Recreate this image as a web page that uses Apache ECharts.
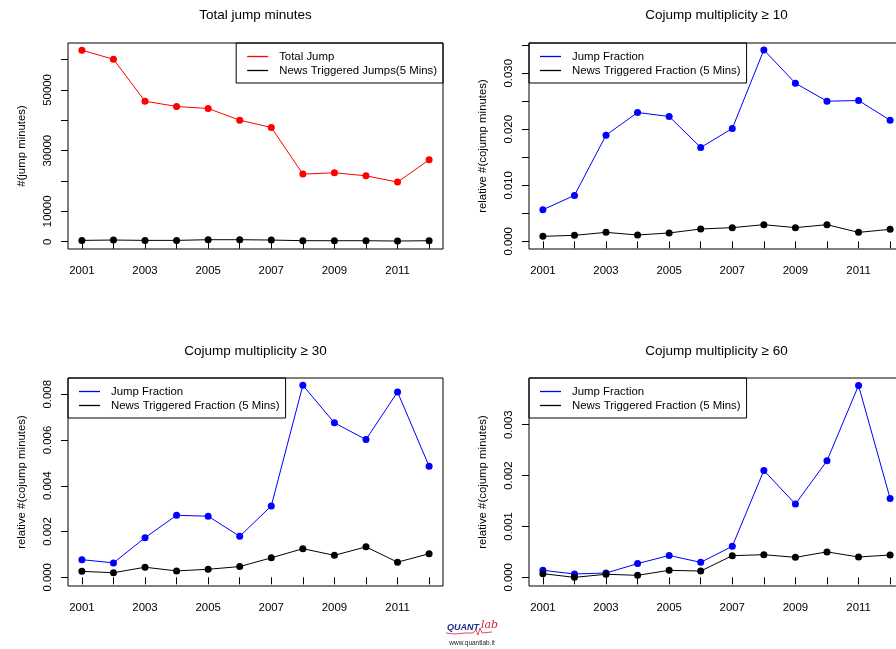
<!DOCTYPE html>
<html>
<head>
<meta charset="utf-8">
<title>Jump minutes</title>
<script src="https://cdn.jsdelivr.net/npm/echarts@6/dist/echarts.min.js"></script>
<style>
  html, body { margin: 0; padding: 0; overflow: hidden; background: #fff; }
  #chart { width: 922px; height: 649px; }
</style>
</head>
<body>
<div id="chart"></div>
<script>
// data
var years = [2001, 2002, 2003, 2004, 2005, 2006, 2007, 2008, 2009, 2010, 2011, 2012];
var yearLabels = [2001, 2003, 2005, 2007, 2009, 2011];

var totalJump = [63060, 60100, 46280, 44540, 43880, 40030, 37630, 22270, 22700, 21710, 19640, 26970];
var newsJumps = [440, 550, 440, 440, 660, 660, 550, 330, 330, 330, 220, 330];

var frac10 = [0.00564, 0.0082, 0.01895, 0.0230, 0.02228, 0.01675, 0.02014, 0.03416, 0.02822, 0.02501, 0.02513, 0.02162];
var news10 = [0.00089, 0.00107, 0.0016, 0.00113, 0.00149, 0.0022, 0.00244, 0.00297, 0.00244, 0.00297, 0.0016, 0.00214];

var frac30 = [0.00077, 0.00063, 0.00173, 0.00271, 0.00267, 0.00179, 0.00312, 0.00839, 0.00675, 0.00602, 0.0081, 0.00485];
var news30 = [0.00026, 0.0002, 0.00044, 0.00028, 0.00035, 0.00047, 0.00085, 0.00125, 0.00096, 0.00133, 0.00066, 0.00103];

var frac60 = [0.000138, 0.000066, 0.000085, 0.00027, 0.00043, 0.000295, 0.00061, 0.0021, 0.00144, 0.00229, 0.00377, 0.00155];
var news60 = [0.000072, 0.0, 0.00006, 0.00004, 0.000138, 0.000124, 0.000426, 0.000445, 0.000393, 0.0005, 0.0004, 0.000439];

// tick marks and the labels R kept
var ticksTotal = [0, 10000, 20000, 30000, 40000, 50000, 60000];
var labelsTotal = [0, 10000, 30000, 50000];
var ticks10 = [0, 0.005, 0.01, 0.015, 0.02, 0.025, 0.03, 0.035];
var labels10 = [0, 0.01, 0.02, 0.03];
var ticks30 = [0, 0.002, 0.004, 0.006, 0.008];
var ticks60 = [0, 0.001, 0.002, 0.003];

var FONT = 'Liberation Sans, Arial, Helvetica, sans-serif';
var FS = 11.4;

function pairs(ys) {
  return years.map(function (y, i) { return [y, ys[i]]; });
}

var panels = [
  {
    title: 'Total jump minutes', cx: 255.5, ty: 8,
    grid: {left: 68, top: 43, width: 375, height: 206},
    yName: '#(jump minutes)', yMin: -2400, yMax: 65450,
    ticks: ticksTotal, labels: labelsTotal, digits: 0,
    lines: [
      {name: 'Total Jump', data: totalJump, color: '#ff0000'},
      {name: 'News Triggered Jumps(5 Mins)', data: newsJumps, color: '#000000'}
    ],
    legend: {right: 922 - 443, top: 43}
  },
  {
    title: 'Cojump multiplicity \u2265 10', cx: 716.5, ty: 8,
    grid: {left: 529, top: 43, width: 375, height: 206},
    yName: 'relative #(cojump minutes)', yMin: -0.00137, yMax: 0.0354,
    ticks: ticks10, labels: labels10, digits: 3,
    lines: [
      {name: 'Jump Fraction', data: frac10, color: '#0000ff'},
      {name: 'News Triggered Fraction (5 Mins)', data: news10, color: '#000000'}
    ],
    legend: {left: 529, top: 43}
  },
  {
    title: 'Cojump multiplicity \u2265 30', cx: 255.5, ty: 344,
    grid: {left: 68, top: 378, width: 375, height: 208},
    yName: 'relative #(cojump minutes)', yMin: -0.00038, yMax: 0.00871,
    ticks: ticks30, labels: ticks30, digits: 3,
    lines: [
      {name: 'Jump Fraction', data: frac30, color: '#0000ff'},
      {name: 'News Triggered Fraction (5 Mins)', data: news30, color: '#000000'}
    ],
    legend: {left: 68, top: 378}
  },
  {
    title: 'Cojump multiplicity \u2265 60', cx: 716.5, ty: 344,
    grid: {left: 529, top: 378, width: 375, height: 208},
    yName: 'relative #(cojump minutes)', yMin: -0.00017, yMax: 0.003917,
    ticks: ticks60, labels: ticks60, digits: 3,
    lines: [
      {name: 'Jump Fraction', data: frac60, color: '#0000ff'},
      {name: 'News Triggered Fraction (5 Mins)', data: news60, color: '#000000'}
    ],
    legend: {left: 529, top: 378}
  }
];

var option = {
  animation: false,
  backgroundColor: '#ffffff',
  textStyle: {fontFamily: FONT, color: '#000'},
  title: [], grid: [], xAxis: [], yAxis: [], legend: [], series: []
};

panels.forEach(function (p, k) {
  option.title.push({
    text: p.title, left: p.cx, top: p.ty, textAlign: 'center', padding: 0,
    textStyle: {fontFamily: FONT, fontSize: 13.5, fontWeight: 'normal', color: '#000'}
  });
  option.grid.push(Object.assign({
    show: true, borderColor: '#000', borderWidth: 1, backgroundColor: 'transparent'
  }, p.grid));
  option.xAxis.push({
    type: 'value', gridIndex: k, min: 2000.56, max: 2012.44,
    axisLine: {show: false},
    splitLine: {show: false},
    axisTick: {show: true, length: 7, customValues: years, lineStyle: {color: '#000', width: 1}},
    axisLabel: {
      customValues: yearLabels, margin: 16, color: '#000',
      fontFamily: FONT, fontSize: FS,
      formatter: function (v) { return String(v); }
    }
  });
  option.yAxis.push({
    type: 'value', gridIndex: k, min: p.yMin, max: p.yMax,
    name: p.yName, nameLocation: 'middle', nameGap: 41,
    nameTextStyle: {fontFamily: FONT, fontSize: FS, color: '#000'},
    axisLine: {show: false},
    splitLine: {show: false},
    axisTick: {show: true, length: 7, customValues: p.ticks, lineStyle: {color: '#000', width: 1}},
    axisLabel: {
      customValues: p.labels, rotate: 90, margin: 15, color: '#000',
      fontFamily: FONT, fontSize: FS,
      formatter: function (v) { return p.digits ? v.toFixed(p.digits) : String(Math.round(v)); }
    }
  });
  option.legend.push(Object.assign({
    orient: 'vertical',
    data: p.lines.map(function (l) { return l.name; }),
    icon: 'rect', itemWidth: 21, itemHeight: 1.3, itemGap: 3,
    padding: [8, 6, 7, 11],
    borderColor: '#000', borderWidth: 1, borderRadius: 0,
    selectedMode: false,
    textStyle: {fontFamily: FONT, fontSize: FS, color: '#000', padding: [0, 0, 0, 6]}
  }, p.legend));
  p.lines.forEach(function (l) {
    option.series.push({
      name: l.name, type: 'line', xAxisIndex: k, yAxisIndex: k,
      data: pairs(l.data),
      symbol: 'circle', symbolSize: 7,
      itemStyle: {color: l.color},
      lineStyle: {color: l.color, width: 1}
    });
  });
});

// quantlab mark at the bottom
option.graphic = [
  {type: 'polyline', shape: {points: [[446, 633], [455, 634], [465, 633], [473, 633], [476, 630], [478, 635], [480, 628], [482, 633], [492, 632]]},
    style: {stroke: '#d81e3c', lineWidth: 0.8, fill: null}},
  {type: 'text', x: 447, y: 623, style: {text: 'QUANT', font: 'italic bold 9px ' + FONT, fill: '#1c2f8c'}},
  {type: 'text', x: 481, y: 620, style: {text: 'lab', font: 'italic 11px DejaVu Serif', fill: '#d81e3c'}},
  {type: 'text', x: 472, y: 643, style: {text: 'www.quantlab.it', font: '6.5px ' + FONT, fill: '#222', align: 'center', verticalAlign: 'middle'}}
];

var myChart = echarts.init(document.getElementById('chart'));
myChart.setOption(option);
</script>
</body>
</html>
